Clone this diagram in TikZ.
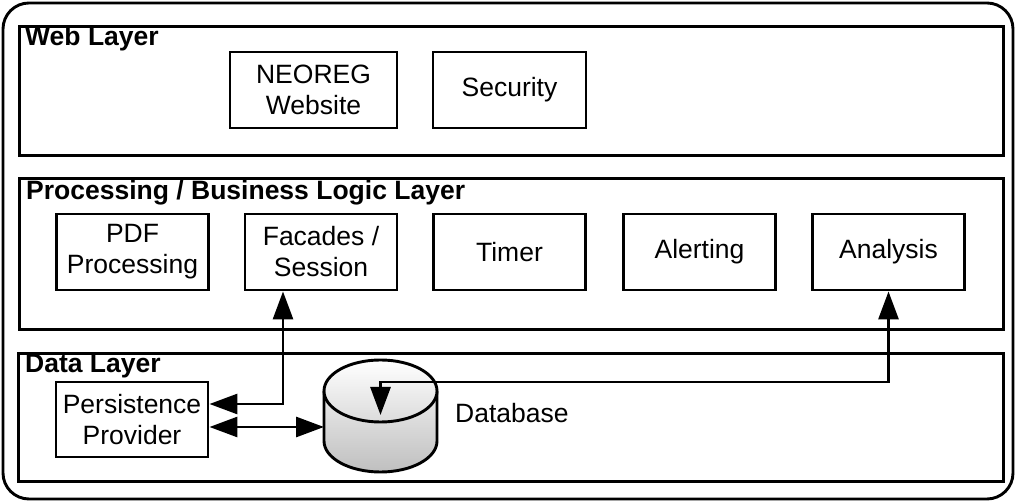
\documentclass[tikz,border=0pt]{standalone}
\usepackage{fontspec}
\setmainfont{Liberation Sans}
\usetikzlibrary{arrows.meta}
\begin{document}
\begin{tikzpicture}[x=1pt,y=1pt,
  lw/.style={line width=2.9pt},
  layer/.style={draw, lw, anchor=north west, inner sep=0pt},
  comp/.style={draw, lw, minimum width=152pt, minimum height=76pt, align=center, inner sep=0pt, font=\fontsize{26.5}{31}\selectfont},
  lbl/.style={anchor=base west, inner sep=0pt, font=\fontsize{26.5}{31}\selectfont\bfseries},
  conn/.style={lw, {Triangle[length=28pt,width=20pt]}-{Triangle[length=28pt,width=20pt]}},
]
\useasboundingbox (0,0) rectangle (1016,502);
\draw[lw, rounded corners=26pt] (3,3) rectangle (1013,499);
% layers
\node[layer, minimum width=984pt, minimum height=129pt] (web) at (18,477) {};
\node[layer, minimum width=984pt, minimum height=151pt] (proc) at (18,325) {};
\node[layer, minimum width=985pt, minimum height=128pt] (data) at (17,150) {};
\node[lbl] (weblbl) at (25,456) {Web Layer};
\node[lbl] (proclbl) at (26,302) {Processing / Business Logic Layer};
\node[lbl] (datalbl) at (25,129) {Data Layer};
% web components
\node[comp, minimum width=167pt] (neo) at (313.5,412) {NEOREG\\Website};
\node[comp, minimum width=153pt] (sec) at (509.5,412) {Security};
% processing components
\node[comp] (pdf) at (132.5,250) {PDF\\Processing};
\node[comp] (fac) at (321,250) {Facades /\\Session};
\node[comp] (tim) at (509.5,250) {Timer};
\node[comp] (ale) at (699.5,250) {Alerting};
\node[comp] (ana) at (888.5,250) {Analysis};
% data
\node[comp, minimum height=75pt] (pers) at (132,82.5) {Persistence\\Provider};
% database cylinder
\shade[shading angle=60, top color=gray!15, bottom color=gray!50] (324,111) -- (324,61) arc[start angle=180,end angle=360,x radius=56.5,y radius=31] -- (437,111) -- cycle;
\draw[lw] (324,111) -- (324,61) arc[start angle=180,end angle=360,x radius=56.5,y radius=31] -- (437,111);
\shade[draw, lw, shading angle=135, top color=white, bottom color=gray!28] (380.5,111) ellipse [x radius=56.5, y radius=31];
\node[anchor=west, inner sep=0pt, font=\fontsize{26.5}{31}\selectfont] (dblbl) at (455,89) {Database};
\coordinate (dbl) at (324,75);
\coordinate (dbtop) at (380.5,87);
% connectors
\coordinate (a1) at (283,98);
\draw[conn] (fac.south -| a1) -- (a1) -- (pers.east |- a1);
\draw[conn] (pers.east |- dbl) -- (dbl);
\coordinate (c1) at (888.5,120);
\draw[conn] (ana.south) -- (c1) -- (dbtop |- c1) -- (dbtop);
\end{tikzpicture}
\end{document}
